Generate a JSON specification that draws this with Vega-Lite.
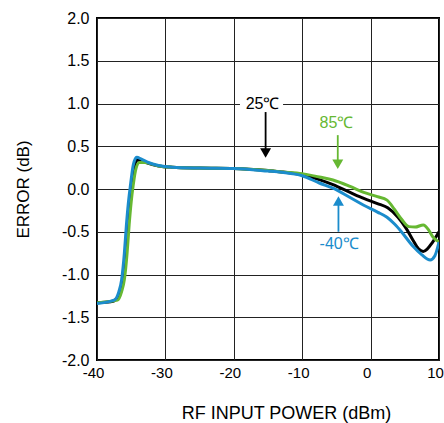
{
  "$schema": "https://vega.github.io/schema/vega-lite/v6.json",
  "width": 342,
  "height": 342,
  "autosize": {"type": "none"},
  "padding": {"left": 97, "top": 18, "right": 5, "bottom": 63},
  "background": "white",
  "config": {
    "view": {"stroke": "black", "strokeWidth": 2},
    "font": "Liberation Sans",
    "axis": {
      "labelFont": "Liberation Sans",
      "titleFont": "Liberation Sans",
      "labelFontSize": 16,
      "titleFontSize": 17,
      "titleFontWeight": "normal",
      "labelColor": "black",
      "titleColor": "black",
      "gridColor": "#222222",
      "gridOpacity": 1,
      "gridWidth": 1,
      "domain": false,
      "ticks": false,
      "labelFlush": false
    }
  },
  "datasets": {
    "curves": [
      {"x": -40, "y": -1.33, "s": "25"}, {"x": -38, "y": -1.32, "s": "25"}, {"x": -37.2, "y": -1.29, "s": "25"}, {"x": -36.6, "y": -1.2, "s": "25"}, {"x": -36.2, "y": -1.06, "s": "25"}, {"x": -35.8, "y": -0.75, "s": "25"}, {"x": -35.5, "y": -0.42, "s": "25"}, {"x": -35.2, "y": -0.15, "s": "25"}, {"x": -34.9, "y": 0.05, "s": "25"}, {"x": -34.5, "y": 0.27, "s": "25"}, {"x": -34.1, "y": 0.34, "s": "25"}, {"x": -33.5, "y": 0.33, "s": "25"}, {"x": -32.5, "y": 0.3, "s": "25"}, {"x": -31, "y": 0.27, "s": "25"}, {"x": -29, "y": 0.255, "s": "25"}, {"x": -25, "y": 0.245, "s": "25"}, {"x": -20, "y": 0.24, "s": "25"}, {"x": -15, "y": 0.215, "s": "25"}, {"x": -13, "y": 0.2, "s": "25"}, {"x": -10, "y": 0.165, "s": "25"}, {"x": -7.5, "y": 0.11, "s": "25"}, {"x": -5.5, "y": 0.05, "s": "25"}, {"x": -3, "y": -0.04, "s": "25"}, {"x": -1, "y": -0.11, "s": "25"}, {"x": 1, "y": -0.17, "s": "25"}, {"x": 2.5, "y": -0.22, "s": "25"}, {"x": 4, "y": -0.33, "s": "25"}, {"x": 5.2, "y": -0.46, "s": "25"}, {"x": 6.2, "y": -0.6, "s": "25"}, {"x": 7, "y": -0.7, "s": "25"}, {"x": 7.7, "y": -0.73, "s": "25"}, {"x": 8.3, "y": -0.7, "s": "25"}, {"x": 9, "y": -0.63, "s": "25"}, {"x": 10, "y": -0.5, "s": "25"},

      {"x": -40, "y": -1.33, "s": "85"}, {"x": -37, "y": -1.3, "s": "85"}, {"x": -36.4, "y": -1.2, "s": "85"}, {"x": -36, "y": -1.06, "s": "85"}, {"x": -35.6, "y": -0.75, "s": "85"}, {"x": -35.3, "y": -0.42, "s": "85"}, {"x": -35, "y": -0.15, "s": "85"}, {"x": -34.7, "y": 0.05, "s": "85"}, {"x": -34.3, "y": 0.24, "s": "85"}, {"x": -33.8, "y": 0.31, "s": "85"}, {"x": -33, "y": 0.31, "s": "85"}, {"x": -31, "y": 0.27, "s": "85"}, {"x": -29, "y": 0.255, "s": "85"}, {"x": -25, "y": 0.245, "s": "85"}, {"x": -20, "y": 0.24, "s": "85"}, {"x": -15, "y": 0.215, "s": "85"}, {"x": -13, "y": 0.2, "s": "85"}, {"x": -10, "y": 0.18, "s": "85"}, {"x": -7.5, "y": 0.14, "s": "85"}, {"x": -5.5, "y": 0.105, "s": "85"}, {"x": -3, "y": 0.03, "s": "85"}, {"x": -1, "y": -0.04, "s": "85"}, {"x": 1, "y": -0.09, "s": "85"}, {"x": 2.4, "y": -0.13, "s": "85"}, {"x": 3.5, "y": -0.24, "s": "85"}, {"x": 4.5, "y": -0.35, "s": "85"}, {"x": 5.6, "y": -0.44, "s": "85"}, {"x": 6.5, "y": -0.445, "s": "85"}, {"x": 7.7, "y": -0.42, "s": "85"}, {"x": 8.5, "y": -0.48, "s": "85"}, {"x": 9.1, "y": -0.56, "s": "85"}, {"x": 10, "y": -0.62, "s": "85"},

      {"x": -40, "y": -1.34, "s": "-40"}, {"x": -37.5, "y": -1.3, "s": "-40"}, {"x": -36.8, "y": -1.2, "s": "-40"}, {"x": -36.4, "y": -1.06, "s": "-40"}, {"x": -36, "y": -0.75, "s": "-40"}, {"x": -35.7, "y": -0.42, "s": "-40"}, {"x": -35.4, "y": -0.15, "s": "-40"}, {"x": -35.1, "y": 0.05, "s": "-40"}, {"x": -34.7, "y": 0.28, "s": "-40"}, {"x": -34.2, "y": 0.37, "s": "-40"}, {"x": -33.5, "y": 0.35, "s": "-40"}, {"x": -32.5, "y": 0.31, "s": "-40"}, {"x": -31, "y": 0.275, "s": "-40"}, {"x": -29, "y": 0.255, "s": "-40"}, {"x": -25, "y": 0.245, "s": "-40"}, {"x": -20, "y": 0.24, "s": "-40"}, {"x": -15, "y": 0.21, "s": "-40"}, {"x": -13, "y": 0.195, "s": "-40"}, {"x": -10, "y": 0.155, "s": "-40"}, {"x": -7.5, "y": 0.07, "s": "-40"}, {"x": -5.5, "y": 0.01, "s": "-40"}, {"x": -3, "y": -0.1, "s": "-40"}, {"x": -1, "y": -0.19, "s": "-40"}, {"x": 1, "y": -0.27, "s": "-40"}, {"x": 2.4, "y": -0.33, "s": "-40"}, {"x": 3.5, "y": -0.41, "s": "-40"}, {"x": 4.5, "y": -0.5, "s": "-40"}, {"x": 6.2, "y": -0.67, "s": "-40"}, {"x": 7.5, "y": -0.77, "s": "-40"}, {"x": 8.7, "y": -0.83, "s": "-40"}, {"x": 9.4, "y": -0.78, "s": "-40"}, {"x": 10, "y": -0.62, "s": "-40"}
    ],
    "notes": [
      {"s": "25", "label": "25℃", "tx": -15.8, "ty": 1.0, "ax": -15.35, "ay1": 0.9, "ay2": 0.45, "hy": 0.42, "shape": "triangle-down", "bx1": -19.1, "bx2": -12.8, "by1": 0.93, "by2": 1.07},
      {"s": "85", "label": "85℃", "tx": -5.0, "ty": 0.77, "ax": -4.8, "ay1": 0.63, "ay2": 0.32, "hy": 0.29, "shape": "triangle-down"},
      {"s": "-40", "label": "-40℃", "tx": -4.6, "ty": -0.64, "ax": -4.7, "ay1": -0.5, "ay2": -0.17, "hy": -0.14, "shape": "triangle-up"}
    ]
  },
  "layer": [
    {
      "data": {"name": "curves"},
      "mark": {"type": "line", "interpolate": "monotone", "strokeWidth": 3, "clip": true},
      "encoding": {
        "x": {
          "field": "x", "type": "quantitative",
          "scale": {"domain": [-40, 10], "nice": false},
          "axis": {"values": [-40, -30, -20, -10, 0, 10], "grid": true, "labelPadding": 5, "labelFlush": false, "labelOffset": -4, "labelFontSize": 15, "title": "RF INPUT POWER (dBm)",
            "titleX": 189, "titleY": 53, "titleBaseline": "middle", "titleAlign": "center", "titleFontSize": 18,
            "labelExpr": "datum.value < 0 ? '-' + (-datum.value) : '' + datum.value"}
        },
        "y": {
          "field": "y", "type": "quantitative",
          "scale": {"domain": [-2, 2], "nice": false},
          "axis": {"values": [-2, -1.5, -1, -0.5, 0, 0.5, 1, 1.5, 2], "grid": true, "labelPadding": 8, "labelFlush": false, "title": "ERROR (dB)",
            "titleX": -74, "titleY": 171, "titleBaseline": "middle", "titleAlign": "center", "titleAngle": -90, "titleFontSize": 17,
            "labelExpr": "datum.value < 0 ? '-' + format(-datum.value, '.1f') : format(datum.value, '.1f')"}
        },
        "color": {
          "field": "s", "type": "nominal",
          "scale": {"domain": ["85", "-40", "25"], "range": ["#66b832", "#1b8ccc", "#000000"]},
          "legend": null
        }
      }
    },
    {
      "data": {"name": "notes"},
      "transform": [{"filter": "datum.s == '25'"}],
      "mark": {"type": "rect", "color": "white"},
      "encoding": {
        "x": {"field": "bx1", "type": "quantitative"},
        "x2": {"field": "bx2"},
        "y": {"field": "by1", "type": "quantitative"},
        "y2": {"field": "by2"}
      }
    },
    {
      "data": {"name": "notes"},
      "mark": {"type": "rule", "strokeWidth": 1.8},
      "encoding": {
        "x": {"field": "ax", "type": "quantitative"},
        "y": {"field": "ay1", "type": "quantitative"},
        "y2": {"field": "ay2"},
        "color": {"field": "s", "type": "nominal", "legend": null}
      }
    },
    {
      "data": {"name": "notes"},
      "mark": {"type": "point", "filled": true, "size": 120, "opacity": 1},
      "encoding": {
        "x": {"field": "ax", "type": "quantitative"},
        "y": {"field": "hy", "type": "quantitative"},
        "shape": {"field": "shape", "type": "nominal", "scale": null, "legend": null},
        "color": {"field": "s", "type": "nominal", "legend": null}
      }
    },
    {
      "data": {"name": "notes"},
      "mark": {"type": "text", "fontSize": 16, "font": "Liberation Sans", "align": "center", "baseline": "middle"},
      "encoding": {
        "x": {"field": "tx", "type": "quantitative"},
        "y": {"field": "ty", "type": "quantitative"},
        "text": {"field": "label"},
        "color": {"field": "s", "type": "nominal", "legend": null}
      }
    }
  ]
}
